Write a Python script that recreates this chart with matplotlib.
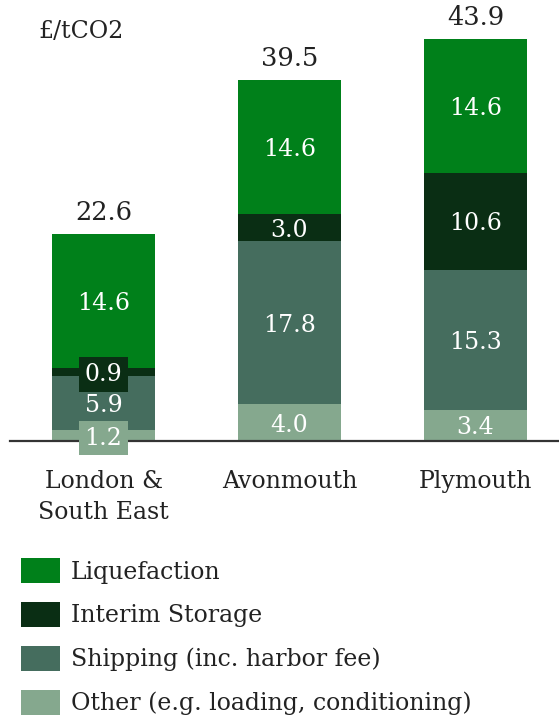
import matplotlib
matplotlib.use("Agg")
import matplotlib.pyplot as plt
from matplotlib.patches import Patch

categories = ["London &\nSouth East", "Avonmouth", "Plymouth"]
other = [1.2, 4.0, 3.4]
shipping = [5.9, 17.8, 15.3]
interim = [0.9, 3.0, 10.6]
liquefaction = [14.6, 14.6, 14.6]
totals = ["22.6", "39.5", "43.9"]
series_names = ["Other (e.g. loading, conditioning)", "Shipping (inc. harbor fee)",
                "Interim Storage", "Liquefaction"]
colors = ["#85A88E", "#456D5E", "#0A2E14", "#00801A"]
unit_label = "£/tCO2"

plt.rcParams['font.family'] = ['DejaVu Serif']
W, H = 559, 717
fig = plt.figure(figsize=(W / 100, H / 100), dpi=100)

def px(x0, y0, x1, y1):
    return [x0 / W, 1 - y1 / H, (x1 - x0) / W, (y1 - y0) / H]

ax = fig.add_axes(px(10, 0, 559, 441))
ax.set_xlim(-0.503, 2.449)
ax.set_ylim(0, 441 / 9.16)
for s in ["top", "right", "left"]:
    ax.spines[s].set_visible(False)
ax.spines["bottom"].set_color("#333333")
ax.spines["bottom"].set_linewidth(1.6)
ax.set_yticks([])
ax.set_xticks([])

x = list(range(len(categories)))
width = 0.554
series = [other, shipping, interim, liquefaction]
bottoms = [0.0] * len(x)
txtc = "#222222"
fs = 17
for vals, col, name in zip(series, colors, series_names):
    ax.bar(x, vals, width, bottom=bottoms, color=col, label=name, zorder=2)
    for i, v in enumerate(vals):
        yc = bottoms[i] + v / 2
        kw = {}
        if v < 1.5:
            kw["bbox"] = dict(boxstyle="square,pad=0.25", fc=col, ec="none")
        ax.text(x[i], yc, f"{v:.1f}", ha="center", va="center_baseline", color="white",
                fontsize=fs, zorder=4, clip_on=False, **kw)
    bottoms = [b + v for b, v in zip(bottoms, vals)]

for i, t in enumerate(totals):
    ax.text(x[i], bottoms[i] + 1.0, t, ha="center", va="bottom", color=txtc,
            fontsize=18.5, clip_on=False)
    ax.text(x[i], -3.2, categories[i], ha="center", va="top", color=txtc,
            fontsize=fs, linespacing=1.4, clip_on=False)

fig.text(38 / W, 1 - 32 / H, unit_label, ha="left", va="center", color=txtc, fontsize=fs)

handles = [Patch(facecolor=c, edgecolor="none") for c in colors][::-1]
labels = series_names[::-1]
fig.legend(handles, labels, loc="upper left", bbox_to_anchor=(12 / W, 1 - 549 / H),
           frameon=False, fontsize=fs, handlelength=1.65, handleheight=1.2,
           handletextpad=0.45, labelspacing=0.8, borderaxespad=0, labelcolor=txtc)

fig.savefig("out.png", dpi=100)
